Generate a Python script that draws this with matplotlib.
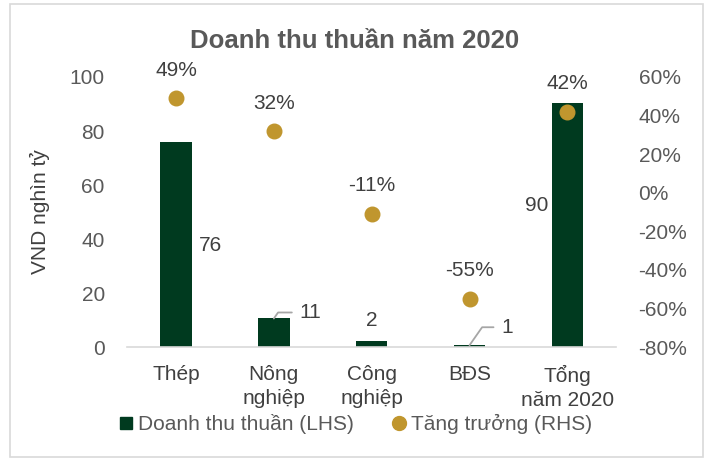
import matplotlib
matplotlib.use("Agg")
import matplotlib.pyplot as plt
from matplotlib.patches import Rectangle
from matplotlib.ticker import FuncFormatter

plt.rcParams['font.family'] = ['Liberation Sans', 'DejaVu Sans']

# du lieu
categories = ["Thép", "Nông\nnghiệp", "Công\nnghiệp", "BĐS", "Tổng\nnăm 2020"]
revenue = [76, 10.6, 2.4, 0.7, 90.4]      # nghin ty VND
growth = [0.49, 0.32, -0.11, -0.55, 0.42]

BAR_COLOR = "#003A1F"
DOT_COLOR = "#C0962E"
TEXT_COLOR = "#404040"
TICK_COLOR = "#595959"
FS = 15

fig = plt.figure(figsize=(7.1, 4.61), dpi=100)
fig.patches.append(Rectangle((0.014, 0.008), 0.976, 0.984, transform=fig.transFigure,
                             fill=False, edgecolor="#D9D9D9", linewidth=1.2))

ax = fig.add_axes([0.179, 0.247, 0.689, 0.586])
x = list(range(len(categories)))
ax.bar(x, revenue, width=0.32, color=BAR_COLOR, zorder=2)
ax.set_xlim(-0.5, len(categories) - 0.5)
ax.set_ylim(0, 100)
ax.set_yticks(range(0, 101, 20))
ax.set_xticks(x)
ax.set_xticklabels(categories, fontsize=FS, color=TEXT_COLOR, linespacing=1.3)
ax.tick_params(axis='both', length=0, labelsize=FS, colors=TICK_COLOR)
ax.tick_params(axis='x', pad=13, colors=TEXT_COLOR)
ax.tick_params(axis='y', pad=16)
for s in ['top', 'left', 'right']:
    ax.spines[s].set_visible(False)
ax.spines['bottom'].set_color("#D9D9D9")
ax.spines['bottom'].set_linewidth(1.2)
ax.set_ylabel("VND nghìn tỷ", fontsize=FS, color=TEXT_COLOR, labelpad=14)

ax2 = ax.twinx()
ax2.scatter(x, growth, s=110, color=DOT_COLOR, zorder=3)
ax2.set_ylim(-0.8, 0.6)
ax2.set_yticks([-0.8, -0.6, -0.4, -0.2, 0, 0.2, 0.4, 0.6])
ax2.yaxis.set_major_formatter(FuncFormatter(lambda v, p: f"{v*100:.0f}%"))
ax2.tick_params(axis='y', length=0, labelsize=FS, colors=TICK_COLOR, pad=16)
for s in ['top', 'left', 'right', 'bottom']:
    ax2.spines[s].set_visible(False)

# nhan doanh thu (vi tri rieng cho tung cot)
lbl_kw = dict(fontsize=FS, color=TEXT_COLOR, textcoords="offset pixels")
ax.annotate(f"{revenue[0]:.0f}", xy=(x[0] + 0.16, revenue[0] / 2), xytext=(7, -1),
            ha='left', va='center', **lbl_kw)
ax.annotate(f"{revenue[2]:.0f}", xy=(x[2], revenue[2]), xytext=(0, 20),
            ha='center', va='center', **lbl_kw)
ax.annotate(f"{revenue[4]:.0f}", xy=(x[4] - 0.16, revenue[4] / 2), xytext=(-3, 20),
            ha='right', va='center', **lbl_kw)
# nhan co duong dan
for i, (dx, dy) in [(1, (18, 6)), (3, (24, 18))]:
    ax.annotate("", xy=(x[i], revenue[i]), xytext=(dx, dy), textcoords="offset pixels",
                arrowprops=dict(arrowstyle='-', color="#A6A6A6", lw=1.3, shrinkA=0, shrinkB=0,
                                connectionstyle="angle,angleA=0,angleB=55,rad=0"))
    ax.annotate(f"{revenue[i]:.0f}", xy=(x[i], revenue[i]), xytext=(dx + 8, dy),
                ha='left', va='center', **lbl_kw)

# nhan tang truong
for xi, g in zip(x, growth):
    ax2.annotate(f"{g*100:.0f}%", xy=(xi, g), xytext=(0, 28), textcoords="offset pixels",
                 ha='center', va='center', fontsize=FS, color=TEXT_COLOR)

fig.text(0.5, 0.91, "Doanh thu thuần năm 2020", ha='center', va='center',
         fontsize=18.5, fontweight='bold', color=TICK_COLOR)

h1 = plt.Line2D([], [], marker='s', linestyle='none', color=BAR_COLOR, markersize=9)
h2 = plt.Line2D([], [], marker='o', linestyle='none', color=DOT_COLOR, markersize=10)
fig.legend([h1, h2], ["Doanh thu thuần (LHS)", "Tăng trưởng (RHS)"],
           loc='center', bbox_to_anchor=(0.5, 0.08), ncol=2, frameon=False,
           fontsize=FS, handletextpad=0.15, columnspacing=1.8, handlelength=0.8,
           labelcolor=TICK_COLOR)

fig.savefig("out.png", dpi=100)
